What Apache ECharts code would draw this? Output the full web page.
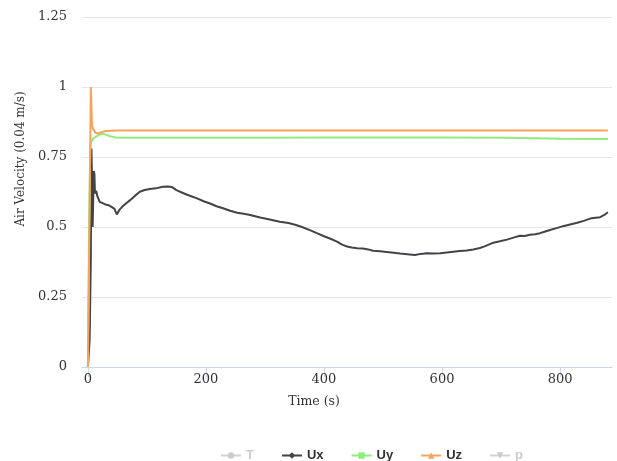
<!DOCTYPE html>
<html><head><meta charset="utf-8">
<script src="https://cdn.jsdelivr.net/npm/echarts@6/dist/echarts.min.js"></script>
<style>html,body{margin:0;padding:0;background:#fff}#c{width:617px;height:461px}</style>
</head><body><div id="c"></div>
<script>
var seriesNames = ['T', 'Ux', 'Uy', 'Uz', 'p'];
var xTicks = [0, 200, 400, 600, 800];
var yTicks = [0, 0.25, 0.5, 0.75, 1, 1.25];
var tData = [];
var pData = [];
var uxData = [[0,0],[3,0.1],[5,0.4],[6,0.78],[7,0.66],[8,0.5],[9,0.6],[10,0.7],[11,0.69],[12,0.62],[14,0.63],[16,0.61],[20,0.59],[25,0.585],[30,0.58],[35,0.578],[40,0.572],[45,0.565],[49,0.545],[53,0.56],[58,0.572],[65,0.585],[71,0.595],[80,0.612],[88,0.626],[96,0.632],[105,0.636],[115,0.638],[127,0.644],[135,0.645],[142,0.643],[150,0.632],[156,0.626],[165,0.618],[175,0.61],[185,0.602],[196,0.592],[207,0.584],[218,0.574],[229,0.567],[241,0.558],[253,0.551],[264,0.547],[275,0.543],[292,0.534],[308,0.527],[325,0.519],[340,0.514],[351,0.508],[364,0.499],[376,0.489],[388,0.478],[399,0.468],[411,0.458],[422,0.448],[430,0.438],[439,0.430],[447,0.427],[456,0.424],[466,0.423],[475,0.420],[483,0.415],[495,0.413],[506,0.411],[518,0.408],[529,0.405],[541,0.403],[554,0.400],[564,0.404],[574,0.406],[586,0.405],[597,0.406],[608,0.409],[619,0.412],[630,0.414],[642,0.416],[653,0.420],[664,0.425],[671,0.430],[678,0.436],[687,0.444],[698,0.449],[710,0.455],[721,0.462],[732,0.469],[740,0.468],[749,0.472],[758,0.474],[766,0.478],[775,0.484],[783,0.489],[794,0.496],[805,0.503],[817,0.509],[829,0.515],[840,0.522],[851,0.530],[860,0.533],[868,0.535],[875,0.543],[881,0.553]];
var uyData = [[0,0],[2,0.5],[4,0.78],[5,0.8],[8,0.815],[12,0.82],[18,0.828],[25,0.833],[30,0.83],[38,0.824],[48,0.82],[60,0.819],[100,0.819],[200,0.819],[300,0.819],[400,0.82],[500,0.82],[600,0.82],[700,0.819],[730,0.818],[760,0.817],[800,0.815],[881,0.814]];
var uzData = [[0,0],[5,1.0],[7,0.86],[9,0.85],[12,0.838],[16,0.834],[22,0.838],[30,0.843],[40,0.844],[50,0.845],[100,0.845],[200,0.845],[300,0.845],[400,0.845],[500,0.845],[600,0.845],[700,0.845],[800,0.845],[881,0.845]];

var colors = ['#7cb5ec', '#434348', '#90ed7d', '#f7a35c', '#8085e9'];
var symbols = ['circle', 'diamond', 'rect', 'triangle', 'path://M0,0 L10,0 L5,10 Z'];
var datas = [tData, uxData, uyData, uzData, pData];
var serif = 'DejaVu Serif';

var chart = echarts.init(document.getElementById('c'));
chart.setOption({
  animation: false,
  grid: {left: 82, right: 5, top: 17, bottom: 94, containLabel: false},
  legend: {
    data: seriesNames,
    left: 215, top: 444,
    itemGap: 27, itemWidth: 20, itemHeight: 8,
    inactiveColor: '#cccccc',
    textStyle: {fontFamily: 'Liberation Sans', fontWeight: 'bold', fontSize: 13, color: '#333'},
    selected: {T: false, p: false}
  },
  xAxis: {
    type: 'value', min: -10, max: 888,
    name: 'Time (s)', nameLocation: 'middle', nameGap: 28,
    nameTextStyle: {fontFamily: serif, fontSize: 12.5, color: '#333', padding: [0, 66, 0, 0]},
    axisLine: {show: true, lineStyle: {color: '#ccd6eb', width: 1}},
    axisTick: {show: true, length: 10, customValues: xTicks, lineStyle: {color: '#ccd6eb'}},
    axisLabel: {customValues: xTicks, fontFamily: serif, fontSize: 13, color: '#333', margin: 6},
    splitLine: {show: false}
  },
  yAxis: {
    type: 'value', min: 0, max: 1.25, interval: 0.25,
    name: 'Air Velocity (0.04 m/s)', nameLocation: 'middle', nameGap: 49,
    nameTextStyle: {fontFamily: serif, fontSize: 12, color: '#333', padding: [0, 0, 0, 66]},
    axisLine: {show: false}, axisTick: {show: false},
    axisLabel: {fontFamily: serif, fontSize: 13, color: '#333', margin: 15},
    splitLine: {lineStyle: {color: '#e6e6e6'}}
  },
  series: seriesNames.map(function (n, i) {
    return {
      name: n, type: 'line', data: datas[i], color: colors[i],
      symbol: symbols[i], symbolSize: 8, showSymbol: false,
      lineStyle: {width: 2, color: colors[i]}, itemStyle: {color: colors[i]}
    };
  })
});
</script></body></html>
